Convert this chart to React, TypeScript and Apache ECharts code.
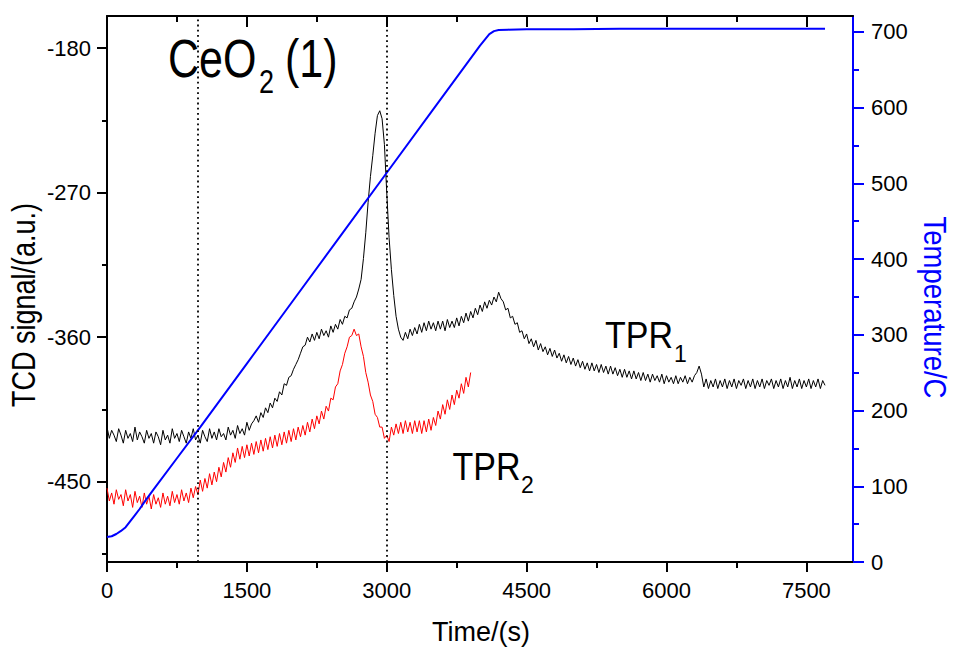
import React, { useEffect, useRef } from "react";
import * as echarts from "echarts";

const FONT = "'Liberation Sans', Arial, Helvetica, sans-serif";

// x-axis tick values (s)
const xMajorTicks = [0, 1500, 3000, 4500, 6000, 7500];
const xMinorTicks = [750, 2250, 3750, 5250, 6750];
const xTopMajorTicks = [1500, 3000, 4500, 6000, 7500];
// left axis (TCD signal) ticks
const yLeftMajorTicks = [-450, -360, -270, -180];
const yLeftMinorTicks = [-495, -405, -315, -225];
// right axis (temperature) ticks
const yRightMajorTicks = [0, 100, 200, 300, 400, 500, 600, 700];
const yRightMinorTicks = [50, 150, 250, 350, 450, 550, 650];

// vertical dotted reference lines (s)
const markTimes = [970, 3000];

// TPR1 (black) [time s, signal a.u.]
const tpr1 = [
  [0, -416], [25, -423], [50, -418], [75, -421], [100, -425], [125, -417], [150, -421], [175, -426],
  [200, -418], [225, -423], [250, -420], [275, -425], [300, -416], [325, -424], [350, -419], [375, -422],
  [400, -426], [425, -418], [450, -423], [475, -420], [500, -426], [525, -419], [550, -422], [575, -427],
  [600, -418], [625, -424], [650, -421], [675, -426], [700, -417], [725, -423], [750, -420], [775, -425],
  [800, -418], [825, -422], [850, -426], [875, -419], [900, -423], [925, -417], [950, -424], [975, -421],
  [1000, -426], [1025, -418], [1050, -422], [1075, -425], [1100, -417], [1125, -423], [1150, -419], [1175, -424],
  [1200, -417], [1225, -422], [1250, -420], [1275, -424], [1300, -416], [1325, -421], [1350, -418], [1375, -423],
  [1400, -415], [1425, -420], [1450, -417], [1475, -421], [1500, -413], [1525, -418], [1550, -414], [1575, -412],
  [1600, -409], [1625, -413], [1650, -407], [1675, -410], [1700, -404], [1725, -407], [1750, -401], [1775, -404],
  [1800, -398], [1825, -400], [1850, -394], [1875, -396], [1900, -389], [1925, -390], [1950, -385], [1975, -384],
  [2000, -380], [2025, -377], [2050, -374], [2075, -370], [2100, -366], [2125, -365], [2150, -360], [2175, -363],
  [2200, -358], [2225, -362], [2250, -357], [2275, -361], [2300, -355], [2325, -359], [2350, -356], [2375, -360],
  [2400, -353], [2425, -357], [2450, -352], [2475, -355], [2500, -349], [2525, -352], [2550, -347], [2575, -348],
  [2600, -343], [2625, -342], [2650, -338], [2675, -335], [2700, -330], [2725, -324], [2750, -311], [2775, -295],
  [2800, -276], [2825, -260], [2850, -247], [2875, -233], [2900, -222], [2925, -219], [2950, -224], [2975, -240],
  [3000, -270], [3025, -298], [3050, -318], [3075, -334], [3100, -347], [3125, -355], [3150, -360], [3175, -362],
  [3200, -357], [3225, -361], [3250, -355], [3275, -359], [3300, -354], [3325, -358], [3350, -352], [3375, -357],
  [3400, -351], [3425, -356], [3450, -350], [3475, -355], [3500, -351], [3525, -356], [3550, -350], [3575, -355],
  [3600, -350], [3625, -356], [3650, -349], [3675, -354], [3700, -350], [3725, -354], [3750, -348], [3775, -353],
  [3800, -347], [3825, -351], [3850, -345], [3875, -350], [3900, -344], [3925, -348], [3950, -342], [3975, -346],
  [4000, -340], [4025, -344], [4050, -338], [4075, -342], [4100, -337], [4125, -340], [4150, -335], [4175, -338],
  [4200, -332], [4225, -336], [4250, -338], [4275, -343], [4300, -342], [4325, -348], [4350, -347], [4375, -352],
  [4400, -351], [4425, -357], [4450, -356], [4475, -361], [4500, -358], [4525, -364], [4550, -361], [4575, -366],
  [4600, -362], [4625, -368], [4650, -364], [4675, -369], [4700, -366], [4725, -371], [4750, -367], [4775, -372],
  [4800, -368], [4825, -373], [4850, -370], [4875, -375], [4900, -371], [4925, -376], [4950, -372], [4975, -377],
  [5000, -373], [5025, -378], [5050, -374], [5075, -379], [5100, -375], [5125, -380], [5150, -376], [5175, -381],
  [5200, -376], [5225, -381], [5250, -377], [5275, -382], [5300, -377], [5325, -382], [5350, -378], [5375, -383],
  [5400, -378], [5425, -383], [5450, -379], [5475, -384], [5500, -380], [5525, -385], [5550, -380], [5575, -385],
  [5600, -381], [5625, -386], [5650, -381], [5675, -386], [5700, -382], [5725, -387], [5750, -382], [5775, -387],
  [5800, -383], [5825, -388], [5850, -383], [5875, -387], [5900, -384], [5925, -388], [5950, -383], [5975, -389],
  [6000, -384], [6025, -388], [6050, -385], [6075, -389], [6100, -384], [6125, -389], [6150, -385], [6175, -388],
  [6200, -384], [6225, -389], [6250, -385], [6275, -388], [6300, -384], [6325, -382], [6350, -378], [6375, -383],
  [6400, -391], [6425, -386], [6450, -392], [6475, -387], [6500, -391], [6525, -386], [6550, -392], [6575, -387],
  [6600, -391], [6625, -386], [6650, -392], [6675, -387], [6700, -391], [6725, -386], [6750, -392], [6775, -387],
  [6800, -390], [6825, -386], [6850, -392], [6875, -387], [6900, -391], [6925, -386], [6950, -392], [6975, -387],
  [7000, -391], [7025, -386], [7050, -392], [7075, -387], [7100, -390], [7125, -386], [7150, -392], [7175, -387],
  [7200, -391], [7225, -386], [7250, -392], [7275, -387], [7300, -391], [7325, -385], [7350, -392], [7375, -387],
  [7400, -391], [7425, -386], [7450, -392], [7475, -387], [7500, -391], [7525, -386], [7550, -392], [7575, -387],
  [7600, -391], [7625, -386], [7650, -392], [7675, -387], [7700, -390],
];

// TPR2 (red) [time s, signal a.u.]
const tpr2 = [
  [0, -454], [25, -462], [50, -457], [75, -464], [100, -455], [125, -461], [150, -458], [175, -465],
  [200, -455], [225, -462], [250, -458], [275, -466], [300, -456], [325, -463], [350, -459], [375, -466],
  [400, -457], [425, -464], [450, -459], [475, -467], [500, -458], [525, -464], [550, -460], [575, -466],
  [600, -457], [625, -464], [650, -459], [675, -465], [700, -456], [725, -463], [750, -458], [775, -464],
  [800, -455], [825, -462], [850, -457], [875, -463], [900, -454], [925, -460], [950, -453], [975, -458],
  [1000, -449], [1025, -456], [1050, -448], [1075, -454], [1100, -445], [1125, -452], [1150, -444], [1175, -450],
  [1200, -441], [1225, -447], [1250, -438], [1275, -444], [1300, -435], [1325, -441], [1350, -432], [1375, -438],
  [1400, -429], [1425, -436], [1450, -428], [1475, -435], [1500, -427], [1525, -434], [1550, -426], [1575, -433],
  [1600, -425], [1625, -432], [1650, -424], [1675, -431], [1700, -423], [1725, -430], [1750, -422], [1775, -429],
  [1800, -421], [1825, -428], [1850, -420], [1875, -427], [1900, -419], [1925, -426], [1950, -418], [1975, -425],
  [2000, -417], [2025, -424], [2050, -416], [2075, -422], [2100, -415], [2125, -421], [2150, -413], [2175, -419],
  [2200, -411], [2225, -417], [2250, -409], [2275, -414], [2300, -406], [2325, -411], [2350, -403], [2375, -406],
  [2400, -398], [2425, -399], [2450, -391], [2475, -389], [2500, -381], [2525, -377], [2550, -370], [2575, -366],
  [2600, -360], [2625, -359], [2650, -355], [2675, -359], [2700, -358], [2725, -366], [2750, -372], [2775, -382],
  [2800, -388], [2825, -396], [2850, -400], [2875, -408], [2900, -410], [2925, -416], [2950, -416], [2975, -423],
  [3000, -421], [3025, -425], [3050, -416], [3075, -421], [3100, -414], [3125, -420], [3150, -413], [3175, -420],
  [3200, -412], [3225, -419], [3250, -413], [3275, -420], [3300, -412], [3325, -419], [3350, -412], [3375, -420],
  [3400, -412], [3425, -419], [3450, -411], [3475, -418], [3500, -410], [3525, -415], [3550, -406], [3575, -411],
  [3600, -402], [3625, -408], [3650, -399], [3675, -405], [3700, -396], [3725, -402], [3750, -393], [3775, -398],
  [3800, -389], [3825, -395], [3850, -385], [3875, -391], [3900, -382],
];

// Temperature (blue) [time s, °C]
const temperature = [
  [0, 33], [50, 34], [100, 37], [150, 41], [200, 46], [250, 54], [300, 62], [350, 70], [400, 79],
  [500, 96], [750, 137], [1000, 178], [1500, 262], [2000, 346], [2500, 430], [3000, 514], [3500, 598],
  [4000, 682], [4100, 697], [4150, 701], [4200, 702.5], [4300, 703], [4500, 703.5], [5000, 703.5],
  [5500, 704], [6000, 704], [6500, 704], [7000, 704], [7500, 704], [7700, 704],
];

export default function App() {
  const ref = useRef<HTMLDivElement>(null);

  useEffect(() => {
    document.body.style.margin = "0";
    if (!ref.current) return;
    const chart = echarts.init(ref.current, undefined, { renderer: "svg" });

    const black = "#000000";
    const blue = "#0000ff";
    const plain = (v: number) => String(v);
    const labelStyle = { fontSize: 22, color: black, fontFamily: FONT, formatter: plain };

    const hiddenAxisBits = {
      axisLine: { show: false, onZero: false },
      axisLabel: { show: false },
      splitLine: { show: false },
    };

    const option: any = {
      animation: false,
      backgroundColor: "#ffffff",
      grid: { left: 107, right: 101, top: 16, bottom: 88, containLabel: false },
      xAxis: [
        {
          type: "value", position: "bottom", min: 0, max: 8000,
          axisLine: { show: true, onZero: false, lineStyle: { color: black, width: 2 } },
          axisTick: { show: true, customValues: xMajorTicks, length: 10, inside: false, lineStyle: { color: black, width: 2 } },
          axisLabel: { ...labelStyle, customValues: xMajorTicks, margin: 17 },
          splitLine: { show: false },
        },
        {
          type: "value", position: "bottom", offset: 0, min: 0, max: 8000,
          ...hiddenAxisBits,
          axisTick: { show: true, customValues: xMinorTicks, length: 6, inside: false, lineStyle: { color: black, width: 2 } },
        },
        {
          type: "value", position: "top", offset: 0, min: 0, max: 8000,
          axisLine: { show: true, onZero: false, lineStyle: { color: black, width: 2 } },
          axisTick: { show: true, customValues: xTopMajorTicks, length: 11, inside: true, lineStyle: { color: black, width: 2 } },
          axisLabel: { show: false },
          splitLine: { show: false },
        },
        {
          type: "value", position: "top", offset: 0, min: 0, max: 8000,
          ...hiddenAxisBits,
          axisTick: { show: true, customValues: xMinorTicks, length: 6, inside: true, lineStyle: { color: black, width: 2 } },
        },
      ],
      yAxis: [
        {
          type: "value", position: "left", min: -500, max: -160,
          axisLine: { show: true, onZero: false, lineStyle: { color: black, width: 2 } },
          axisTick: { show: true, customValues: yLeftMajorTicks, length: 10, inside: false, lineStyle: { color: black, width: 2 } },
          axisLabel: { ...labelStyle, customValues: yLeftMajorTicks, margin: 16 },
          splitLine: { show: false },
        },
        {
          type: "value", position: "right", min: 0, max: 721,
          axisLine: { show: true, onZero: false, lineStyle: { color: blue, width: 2 } },
          axisTick: { show: true, customValues: yRightMajorTicks, length: 11, inside: false, lineStyle: { color: blue, width: 2 } },
          axisLabel: { ...labelStyle, customValues: yRightMajorTicks, margin: 18 },
          splitLine: { show: false },
        },
        {
          type: "value", position: "left", offset: 0, min: -500, max: -160,
          ...hiddenAxisBits,
          axisTick: { show: true, customValues: yLeftMinorTicks, length: 5, inside: false, lineStyle: { color: black, width: 2 } },
        },
        {
          type: "value", position: "right", offset: 0, min: 0, max: 721,
          ...hiddenAxisBits,
          axisTick: { show: true, customValues: yRightMinorTicks, length: 6, inside: false, lineStyle: { color: blue, width: 2 } },
        },
      ],
      series: [
        {
          name: "TPR1", type: "line", xAxisIndex: 0, yAxisIndex: 0, data: tpr1,
          showSymbol: false, symbol: "none", silent: true, z: 2,
          lineStyle: { color: black, width: 1 },
          markLine: {
            silent: true, symbol: ["none", "none"], label: { show: false }, z: 5,
            lineStyle: { color: black, width: 1.8, type: [1.8, 3.4] },
            data: markTimes.map((t) => ({ xAxis: t })),
          },
        },
        {
          name: "TPR2", type: "line", xAxisIndex: 0, yAxisIndex: 0, data: tpr2,
          showSymbol: false, symbol: "none", silent: true, z: 3,
          lineStyle: { color: "#ff0000", width: 1 },
        },
        {
          name: "Temperature", type: "line", xAxisIndex: 0, yAxisIndex: 1, data: temperature,
          showSymbol: false, symbol: "none", silent: true, z: 4,
          lineStyle: { color: blue, width: 2 },
        },
      ],
      graphic: [
        { type: "text", x: 168, y: 58.4, scaleY: 1.23, z: 1, style: { text: "CeO", fontSize: 43, fontFamily: FONT, fill: black, align: "left", verticalAlign: "middle" } },
        { type: "text", x: 259, y: 81.8, scaleY: 1.23, z: 1, style: { text: "2", fontSize: 27, fontFamily: FONT, fill: black, align: "left", verticalAlign: "middle" } },
        { type: "text", x: 285, y: 58.4, scaleY: 1.23, z: 1, style: { text: "(1)", fontSize: 43, fontFamily: FONT, fill: black, align: "left", verticalAlign: "middle" } },
        { type: "text", x: 605, y: 335.3, scaleY: 1.1, z: 1, style: { text: "TPR", fontSize: 34, fontFamily: FONT, fill: black, align: "left", verticalAlign: "middle" } },
        { type: "text", x: 674, y: 353.7, z: 1, style: { text: "1", fontSize: 23, fontFamily: FONT, fill: black, align: "left", verticalAlign: "middle" } },
        { type: "text", x: 452.6, y: 466.3, scaleY: 1.16, z: 1, style: { text: "TPR", fontSize: 34, fontFamily: FONT, fill: black, align: "left", verticalAlign: "middle" } },
        { type: "text", x: 521, y: 485.3, z: 1, style: { text: "2", fontSize: 23, fontFamily: FONT, fill: black, align: "left", verticalAlign: "middle" } },
        { type: "text", x: 481, y: 632.3, z: 1, style: { text: "Time/(s)", fontSize: 27, fontFamily: FONT, fill: black, align: "center", verticalAlign: "middle" } },
        { type: "text", x: 23.8, y: 305, rotation: Math.PI / 2, scaleY: 1.2, z: 1, style: { text: "TCD signal/(a.u.)", fontSize: 27, fontFamily: FONT, fill: black, align: "center", verticalAlign: "middle" } },
        { type: "text", x: 935, y: 307.5, rotation: -Math.PI / 2, scaleY: 1.15, z: 1, style: { text: "Temperature/C", fontSize: 27.5, fontFamily: FONT, fill: blue, align: "center", verticalAlign: "middle" } },
      ],
    };

    chart.setOption(option);
    return () => {
      chart.dispose();
    };
  }, []);

  return <div ref={ref} style={{ width: 954, height: 650 }} />;
}
